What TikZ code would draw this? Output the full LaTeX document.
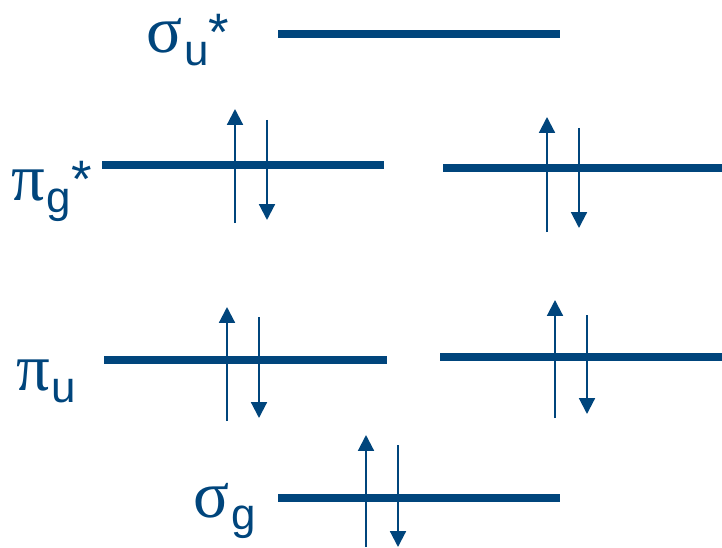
\documentclass[tikz,border=0pt]{standalone}
\usepackage{fontspec}
\setmainfont{Liberation Sans}
\newfontfamily\greekfont{Liberation Serif}
\usetikzlibrary{arrows.meta}
\definecolor{moblue}{RGB}{0,69,124}
\newcommand{\orbname}[3]{{\fontsize{38}{38}\greekfont #1}\kern1pt\raisebox{-7pt}{\fontsize{25}{25}\selectfont #2}\raisebox{1.5pt}{\fontsize{30}{30}\selectfont #3}}
\tikzset{
    level/.style={draw=moblue, line width=4.8pt},
    spin/.style={draw=moblue, line width=1.2pt, -{Triangle[width=9pt,length=9pt]}},
    orblabel/.style={text=moblue, inner sep=0pt, anchor=base west}
}
\begin{document}
\begin{tikzpicture}[x=0.02cm, y=-0.02cm]
    \useasboundingbox (0,0) rectangle (722,547);

    % level end points
    \coordinate (su1) at (278,34);  \coordinate (su2) at (560,34);
    \coordinate (pgL1) at (102,165); \coordinate (pgL2) at (384,165);
    \coordinate (pgR1) at (443,168); \coordinate (pgR2) at (722,168);
    \coordinate (puL1) at (104,360); \coordinate (puL2) at (387,360);
    \coordinate (puR1) at (440,357); \coordinate (puR2) at (722,357);
    \coordinate (sg1) at (278,498);  \coordinate (sg2) at (560,498);

    \draw [level] (su1) -- (su2);
    \draw [level] (pgL1) -- (pgL2);
    \draw [level] (pgR1) -- (pgR2);
    \draw [level] (puL1) -- (puL2);
    \draw [level] (puR1) -- (puR2);
    \draw [level] (sg1) -- (sg2);

    % labels
    \node [orblabel] (lsu) at (146,53) {\orbname{σ}{u}{*}};
    \node [orblabel] (lpg) at (11,200) {\orbname{π}{g}{*}};
    \node [orblabel] (lpu) at (16,390) {\orbname{π}{u}{}};
    \node [orblabel] (lsg) at (193,517) {\orbname{σ}{g}{}};

    % electrons
    \coordinate (a1) at (235,223); \coordinate (a2) at (235,109);
    \coordinate (a3) at (267,120); \coordinate (a4) at (267,220);
    \coordinate (b1) at (547,232); \coordinate (b2) at (547,117);
    \coordinate (b3) at (579,128); \coordinate (b4) at (579,228);
    \coordinate (c1) at (227,421); \coordinate (c2) at (227,307);
    \coordinate (c3) at (259,317); \coordinate (c4) at (259,418);
    \coordinate (d1) at (555,418); \coordinate (d2) at (555,300);
    \coordinate (d3) at (587,315); \coordinate (d4) at (587,414);
    \coordinate (e1) at (366,547); \coordinate (e2) at (366,435);
    \coordinate (e3) at (398,445); \coordinate (e4) at (398,547);

    \foreach \o in {a,b,c,d,e} {
        \draw [spin] (\o1) -- (\o2);
        \draw [spin] (\o3) -- (\o4);
    }
\end{tikzpicture}
\end{document}
